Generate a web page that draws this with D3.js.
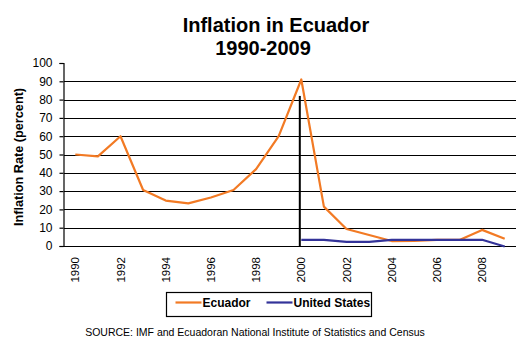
<!DOCTYPE html>
<meta charset="utf-8">

<!-- Load d3.js -->
<script src="https://d3js.org/d3.v7.min.js"></script>

<div id="my_dataviz"></div>

<style>
body {
  margin: 0;
  background: #ffffff;
}
svg text {
  font-family: "Liberation Sans", Arial, sans-serif;
  fill: #000000;
}
</style>

<script>

// years on the x axis and the two inflation series (percent)
var years = d3.range(1990, 2010);
var ecuador = [50, 49, 60, 30.6, 24.8, 23.3, 26.5, 30.6, 42, 60,
               91, 21.5, 9.3, 6, 2.7, 2.8, 3.3, 3.3, 8.8, 4];
var unitedStates = [null, null, null, null, null, null, null, null, null, null,
                    3.4, 3.3, 2.3, 2.3, 3.3, 3.4, 3.4, 3.4, 3.4, -0.3];
var seriesNames = ["Ecuador", "United States"];
var seriesColors = ["#f27a24", "#333399"];
var yTicks = [0, 10, 20, 30, 40, 50, 60, 70, 80, 90, 100];
var xTickYears = [1990, 1992, 1994, 1996, 1998, 2000, 2002, 2004, 2006, 2008];
// dollarization marker in 2000
var markerYear = 2000, markerValue = 82;

var width = 527, height = 344;
var margin = {top: 63, right: 11, bottom: 98, left: 64};

var svg = d3.select("#my_dataviz")
  .append("svg")
    .attr("width", width)
    .attr("height", height)
    .style("display", "block");

svg.append("rect")
  .attr("width", width)
  .attr("height", height)
  .attr("fill", "#ffffff");

// title
svg.append("text")
  .attr("x", 276)
  .attr("y", 32)
  .attr("text-anchor", "middle")
  .style("font-size", "20px")
  .style("font-weight", "bold")
  .text("Inflation in Ecuador");
svg.append("text")
  .attr("x", 263)
  .attr("y", 55)
  .attr("text-anchor", "middle")
  .style("font-size", "20px")
  .style("font-weight", "bold")
  .text("1990-2009");

// scales
var x = d3.scaleBand()
  .domain(years)
  .range([margin.left, width - margin.right]);
var y = d3.scaleLinear()
  .domain([0, 100])
  .range([height - margin.bottom, margin.top]);

function cx(yr) { return x(yr) + x.bandwidth() / 2; }

// horizontal gridlines (not at 0 or 100)
svg.append("g")
  .selectAll("line")
  .data(yTicks.filter(function(d) { return d > 0 && d < 100; }))
  .enter()
  .append("line")
    .attr("x1", margin.left)
    .attr("x2", width - margin.right)
    .attr("y1", function(d) { return Math.round(y(d)) + 0.5; })
    .attr("y2", function(d) { return Math.round(y(d)) + 0.5; })
    .attr("stroke", "#000")
    .attr("stroke-width", 1.2);

// Y axis
var yAxis = svg.append("g")
  .attr("transform", "translate(" + (margin.left - 0.5) + ",0)")
  .call(d3.axisLeft(y).tickValues(yTicks).tickSize(4).tickPadding(7));
yAxis.select(".domain").attr("stroke", "#000").attr("stroke-width", 1.2);
yAxis.selectAll(".tick line").attr("stroke", "#000").attr("stroke-width", 1.2);
yAxis.selectAll("text").style("font-size", "12px");

// X axis line
svg.append("line")
  .attr("x1", margin.left - 1)
  .attr("x2", width - margin.right)
  .attr("y1", y(0) + 0.5)
  .attr("y2", y(0) + 0.5)
  .attr("stroke", "#000")
  .attr("stroke-width", 1.2);

// rotated year labels
svg.append("g")
  .selectAll("text")
  .data(xTickYears)
  .enter()
  .append("text")
    .attr("transform", function(d) { return "translate(" + cx(d) + "," + (y(0) + 11) + ") rotate(-90)"; })
    .attr("text-anchor", "end")
    .attr("dy", "0.35em")
    .style("font-size", "11.5px")
    .text(function(d) { return d; });

// y axis title
svg.append("text")
  .attr("transform", "translate(23," + 157 + ") rotate(-90)")
  .attr("text-anchor", "middle")
  .style("font-size", "12.7px")
  .style("font-weight", "bold")
  .text("Inflation Rate (percent)");

// vertical marker at 2000
svg.append("line")
  .attr("x1", cx(markerYear) - 1.5)
  .attr("x2", cx(markerYear) - 1.5)
  .attr("y1", y(markerValue))
  .attr("y2", y(0))
  .attr("stroke", "#000")
  .attr("stroke-width", 2);

// lines
var line = d3.line()
  .defined(function(d) { return d.v !== null; })
  .x(function(d) { return cx(d.year); })
  .y(function(d) { return y(d.v); });

[ecuador, unitedStates].forEach(function(vals, i) {
  var pts = years.map(function(yr, j) { return {year: yr, v: vals[j]}; });
  svg.append("path")
    .datum(pts)
    .attr("fill", "none")
    .attr("stroke", seriesColors[i])
    .attr("stroke-width", 2.2)
    .attr("stroke-linejoin", "round")
    .attr("d", line);
});

// legend
var legend = svg.append("g").attr("transform", "translate(166.5,292.5)");
legend.append("rect")
  .attr("width", 205)
  .attr("height", 24)
  .attr("fill", "#fff")
  .attr("stroke", "#000")
  .attr("stroke-width", 1.2);
var legendX = [9, 100];
seriesNames.forEach(function(name, i) {
  legend.append("line")
    .attr("x1", legendX[i])
    .attr("x2", legendX[i] + 26)
    .attr("y1", 10)
    .attr("y2", 10)
    .attr("stroke", seriesColors[i])
    .attr("stroke-width", 2.2);
  legend.append("text")
    .attr("x", legendX[i] + 27)
    .attr("y", 14.5)
    .style("font-size", "12px")
    .style("font-weight", "bold")
    .text(name);
});

// source note
svg.append("text")
  .attr("x", 255)
  .attr("y", 335.5)
  .attr("text-anchor", "middle")
  .style("font-size", "10.5px")
  .text("SOURCE: IMF and Ecuadoran National Institute of Statistics and Census");

</script>
